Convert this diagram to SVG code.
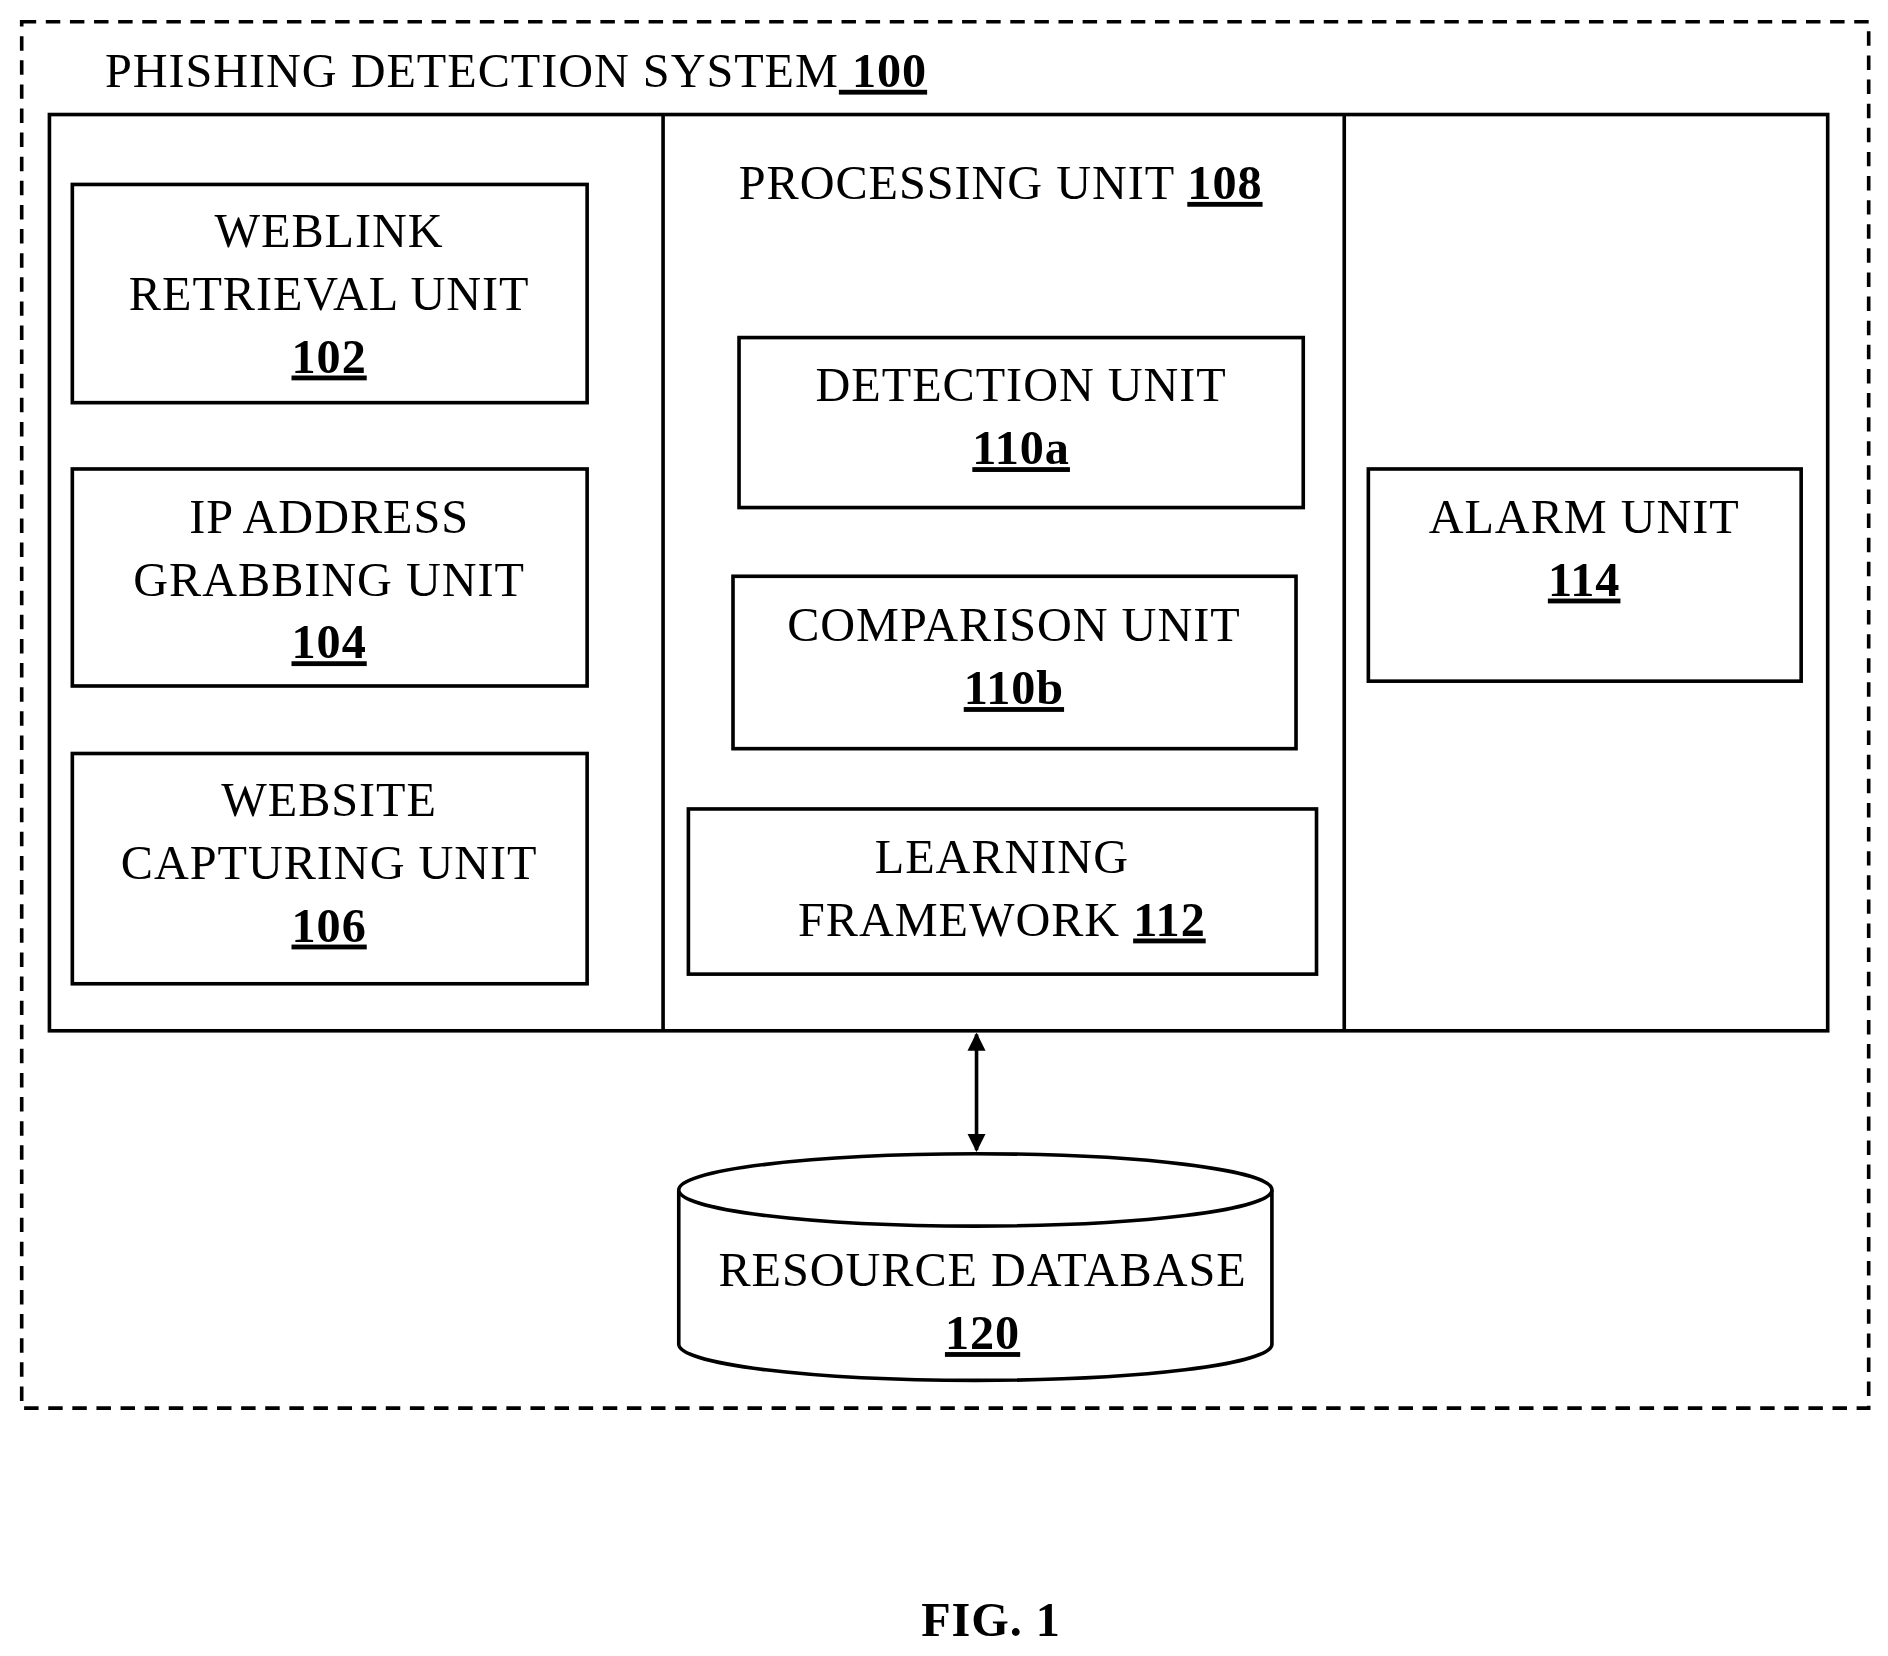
<svg xmlns="http://www.w3.org/2000/svg" width="1888" height="1656" viewBox="0 0 1888 1656">
<defs>
<style>
text{font-family:"Liberation Serif","Times New Roman",serif;font-size:40px;letter-spacing:0.8px;fill:#000;text-anchor:middle}
.b{font-weight:bold;text-decoration:underline}
.box{fill:#fff;stroke:#000;stroke-width:3}
</style>
<marker id="ah" viewBox="0 0 10 10" refX="9" refY="5" markerWidth="5" markerHeight="5" orient="auto-start-reverse"><path d="M0,0L10,5L0,10z" fill="#000"/></marker>
</defs>
<rect width="1888" height="1656" fill="#fff"/>
<g transform="scale(1.2056)">
<g id="system"><rect x="18" y="18" width="1532" height="1150" fill="none" stroke="#000" stroke-width="3" stroke-dasharray="12,8"/>
<text x="87" y="72" style="text-anchor:start">PHISHING DETECTION SYSTEM<tspan class="b"> 100</tspan></text></g>
<g id="frame"><rect class="box" x="41" y="95" width="1475" height="760"/><line x1="550" y1="95" x2="550" y2="855" stroke="#000" stroke-width="3"/><line x1="1115" y1="95" x2="1115" y2="855" stroke="#000" stroke-width="3"/>
<text x="830" y="165">PROCESSING UNIT <tspan class="b">108</tspan></text></g>
<g id="n102"><rect class="box" x="60" y="153" width="427" height="181"/><text x="273" y="205">WEBLINK</text><text x="273" y="257">RETRIEVAL UNIT</text><text x="273" y="309" class="b">102</text></g>
<g id="n104"><rect class="box" x="60" y="389" width="427" height="180"/><text x="273" y="442">IP ADDRESS</text><text x="273" y="494">GRABBING UNIT</text><text x="273" y="546" class="b">104</text></g>
<g id="n106"><rect class="box" x="60" y="625" width="427" height="191"/><text x="273" y="677">WEBSITE</text><text x="273" y="729">CAPTURING UNIT</text><text x="273" y="781" class="b">106</text></g>
<g id="n110a"><rect class="box" x="613" y="280" width="468" height="141"/><text x="847" y="333">DETECTION UNIT</text><text x="847" y="385" class="b">110a</text></g>
<g id="n110b"><rect class="box" x="608" y="478" width="467" height="143"/><text x="841" y="532">COMPARISON UNIT</text><text x="841" y="584" class="b">110b</text></g>
<g id="n112"><rect class="box" x="571" y="671" width="521" height="137"/><text x="831" y="724">LEARNING</text><text x="831" y="776">FRAMEWORK <tspan class="b">112</tspan></text></g>
<g id="n114"><rect class="box" x="1135" y="389" width="359" height="176"/><text x="1314" y="442">ALARM UNIT</text><text x="1314" y="494" class="b">114</text></g>
<g id="n120"><path d="M563,987 V1115 A246,30 0 0 0 1055,1115 V987" class="box"/><ellipse cx="809" cy="987" rx="246" ry="30" class="box"/>
<text x="815" y="1067">RESOURCE DATABASE</text><text x="815" y="1119" class="b">120</text></g>
<g id="connectors"><line x1="810" y1="858" x2="810" y2="954" stroke="#000" stroke-width="3" marker-start="url(#ah)" marker-end="url(#ah)"/></g>
<text x="822" y="1357" style="font-weight:bold">FIG. 1</text>
</g>
</svg>
